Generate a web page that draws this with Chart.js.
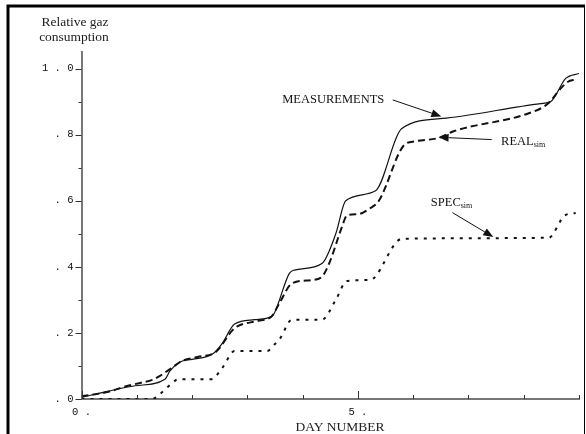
<!DOCTYPE html>
<html>
<head>
<meta charset="utf-8">
<script src="https://cdn.jsdelivr.net/npm/chart.js@4.4.1/dist/chart.umd.min.js"></script>
<style>
  html, body { margin: 0; padding: 0; background: #fff; }
  #wrap { width: 586px; height: 434px; }
</style>
</head>
<body>
<div id="wrap"><canvas id="chart"></canvas></div>
<script>
// measured curve (solid)
var measDays   = [0, 0.49, 0.97, 1.51, 1.6, 1.78, 2.0, 2.37, 2.54, 2.77, 3.13, 3.44, 3.49, 3.76, 3.85, 4.35, 4.6, 4.78, 5.32, 5.79, 6.6, 8.31, 8.49, 8.76, 9.0];
var measValues = [0.005, 0.024, 0.04, 0.06, 0.085, 0.112, 0.12, 0.136, 0.167, 0.227, 0.24, 0.25, 0.26, 0.38, 0.39, 0.41, 0.5, 0.6, 0.63, 0.818, 0.85, 0.894, 0.9, 0.97, 0.985];

// REAL sim (dashed)
var realDays   = [0, 0.49, 0.79, 1.1, 1.28, 1.42, 1.51, 1.64, 1.82, 2.1, 2.41, 2.5, 2.72, 2.82, 3.18, 3.44, 3.58, 3.81, 4.17, 4.35, 4.48, 4.71, 4.8, 5.02, 5.2, 5.38, 5.83, 6.04, 6.46, 6.73, 8.08, 8.44, 8.67, 8.8, 8.94];
var realValues = [0.008, 0.022, 0.038, 0.05, 0.058, 0.07, 0.08, 0.095, 0.115, 0.127, 0.14, 0.155, 0.206, 0.22, 0.236, 0.25, 0.29, 0.35, 0.36, 0.37, 0.41, 0.52, 0.555, 0.56, 0.575, 0.6, 0.767, 0.78, 0.79, 0.81, 0.864, 0.894, 0.94, 0.96, 0.967];

// SPEC sim (dotted)
var specDays   = [0, 1.28, 1.42, 1.69, 1.75, 2.35, 2.55, 2.77, 3.36, 3.49, 3.58, 3.81, 4.35, 4.6, 4.8, 5.2, 5.27, 5.8, 8.45, 8.74, 8.94];
var specValues = [0, 0, 0.015, 0.055, 0.06, 0.06, 0.095, 0.145, 0.145, 0.165, 0.18, 0.24, 0.24, 0.3, 0.357, 0.36, 0.363, 0.485, 0.488, 0.555, 0.563];

var yLabelValues = [0, 0.2, 0.4, 0.6, 0.8, 1.0];
var yLabelTexts  = ['. 0', '. 2', '. 4', '. 6', '. 8', '1 . 0'];
var xLabelValues = [0, 5];
var xLabelTexts  = ['0 .', '5 .'];

function toPoints(xs, ys) {
    return xs.map(function (x, i) { return { x: x, y: ys[i] }; });
}

function findLabel(values, texts, v) {
    for (var i = 0; i < values.length; i++) {
        if (Math.abs(values[i] - v) < 1e-6) return texts[i];
    }
    return '';
}

var serif = '"Liberation Serif", "Times New Roman", serif';
var mono = '"Liberation Mono", monospace';

function arrow(ctx, x1, y1, x2, y2) {
    var a = Math.atan2(y2 - y1, x2 - x1);
    var len = 10, w = 4;
    ctx.beginPath();
    ctx.moveTo(x1, y1);
    ctx.lineTo(x2 - Math.cos(a) * len, y2 - Math.sin(a) * len);
    ctx.stroke();
    ctx.beginPath();
    ctx.moveTo(x2, y2);
    ctx.lineTo(x2 - Math.cos(a) * len - Math.sin(a) * w, y2 - Math.sin(a) * len + Math.cos(a) * w);
    ctx.lineTo(x2 - Math.cos(a) * len + Math.sin(a) * w, y2 - Math.sin(a) * len - Math.cos(a) * w);
    ctx.closePath();
    ctx.fill();
}

function subText(ctx, x, y, main, sub) {
    ctx.font = '12.5px ' + serif;
    ctx.textAlign = 'left';
    ctx.textBaseline = 'middle';
    ctx.fillText(main, x, y);
    var w = ctx.measureText(main).width;
    ctx.font = '8px ' + serif;
    ctx.fillText(sub, x + w, y + 3);
}

var decor = {
    id: 'decor',
    afterDraw: function (chart) {
        var ctx = chart.ctx;
        var xs = chart.scales.x, ys = chart.scales.y;
        var X = function (v) { return xs.getPixelForValue(v); };
        var Y = function (v) { return ys.getPixelForValue(v); };
        ctx.save();

        // frame
        ctx.strokeStyle = '#000';
        ctx.lineWidth = 3;
        ctx.beginPath();
        ctx.moveTo(8, 434);
        ctx.lineTo(8, 6);
        ctx.lineTo(585, 6);
        ctx.stroke();
        ctx.lineWidth = 1;
        ctx.beginPath();
        ctx.moveTo(584.5, 6);
        ctx.lineTo(584.5, 434);
        ctx.stroke();

        // ticks (x ticks point up into the plot, y ticks point left)
        ctx.strokeStyle = '#333';
        ctx.lineWidth = 1;
        var y0 = Y(0), x0 = X(0);
        for (var d = 0; d <= 9; d++) {
            var h = (d % 5 === 0) ? 8 : 4;
            ctx.beginPath();
            ctx.moveTo(Math.round(X(d)) + 0.5, y0);
            ctx.lineTo(Math.round(X(d)) + 0.5, y0 - h);
            ctx.stroke();
        }
        for (var k = 0; k <= 10; k++) {
            var l = (k % 2 === 0) ? 6 : 3;
            var py = Math.round(Y(k / 10)) + 0.5;
            ctx.beginPath();
            ctx.moveTo(x0, py);
            ctx.lineTo(x0 - l, py);
            ctx.stroke();
        }

        // texts
        ctx.fillStyle = '#222';
        ctx.font = '13.5px ' + serif;
        ctx.textAlign = 'center';
        ctx.textBaseline = 'middle';
        ctx.fillText('Relative gaz', 75, 22);
        ctx.fillText('consumption', 74, 37);
        ctx.fillText('DAY NUMBER', 340, 427);

        ctx.fillStyle = '#111';
        ctx.strokeStyle = '#111';
        ctx.lineWidth = 1;
        ctx.font = '12.5px ' + serif;
        ctx.textAlign = 'left';
        ctx.fillText('MEASUREMENTS', X(3.63), Y(0.906));
        arrow(ctx, X(5.63), Y(0.905), X(6.51), Y(0.855));

        subText(ctx, X(7.59), Y(0.778), 'REAL', 'sim');
        arrow(ctx, X(7.42), Y(0.785), X(6.46), Y(0.792));

        subText(ctx, X(6.32), Y(0.594), 'SPEC', 'sim');
        arrow(ctx, X(6.71), Y(0.564), X(7.45), Y(0.49));

        ctx.restore();
    }
};

var config = {
    type: 'line',
    data: {
        datasets: [
            {
                label: 'MEASUREMENTS',
                data: toPoints(measDays, measValues),
                borderColor: '#111',
                borderWidth: 1.2,
                pointRadius: 0,
                cubicInterpolationMode: 'monotone'
            },
            {
                label: 'REAL sim',
                data: toPoints(realDays, realValues),
                borderColor: '#111',
                borderWidth: 2,
                borderDash: [7, 4],
                pointRadius: 0,
                cubicInterpolationMode: 'monotone'
            },
            {
                label: 'SPEC sim',
                data: toPoints(specDays, specValues),
                borderColor: '#111',
                borderWidth: 2,
                borderDash: [3, 6],
                pointRadius: 0,
                cubicInterpolationMode: 'monotone'
            }
        ]
    },
    options: {
        responsive: true,
        maintainAspectRatio: false,
        animation: false,
        layout: { padding: { top: 52, right: 5, left: 0, bottom: 0 } },
        plugins: {
            legend: { display: false },
            tooltip: { enabled: false }
        },
        scales: {
            x: {
                type: 'linear',
                min: 0,
                max: 9,
                afterFit: function (s) { s.height = 35; },
                grid: { display: false, drawTicks: false },
                border: { display: true, color: '#777', width: 2 },
                ticks: {
                    stepSize: 1,
                    autoSkip: false,
                    maxRotation: 0,
                    padding: 7,
                    color: '#111',
                    font: { family: mono, size: 10.5 },
                    callback: function (v) { return findLabel(xLabelValues, xLabelTexts, v); }
                }
            },
            y: {
                min: 0,
                max: 1.05,
                afterFit: function (s) { s.width = 81.5; },
                grid: { display: true, drawOnChartArea: false, drawTicks: true, tickLength: 6, color: 'transparent' },
                border: { display: true, color: '#777', width: 2 },
                ticks: {
                    stepSize: 0.1,
                    autoSkip: false,
                    padding: 2,
                    color: '#111',
                    font: { family: mono, size: 10.5 },
                    callback: function (v) { return findLabel(yLabelValues, yLabelTexts, v); }
                }
            }
        }
    },
    plugins: [decor]
};

var ctx = document.getElementById('chart').getContext('2d');
window.myChart = new Chart(ctx, config);
</script>
</body>
</html>
